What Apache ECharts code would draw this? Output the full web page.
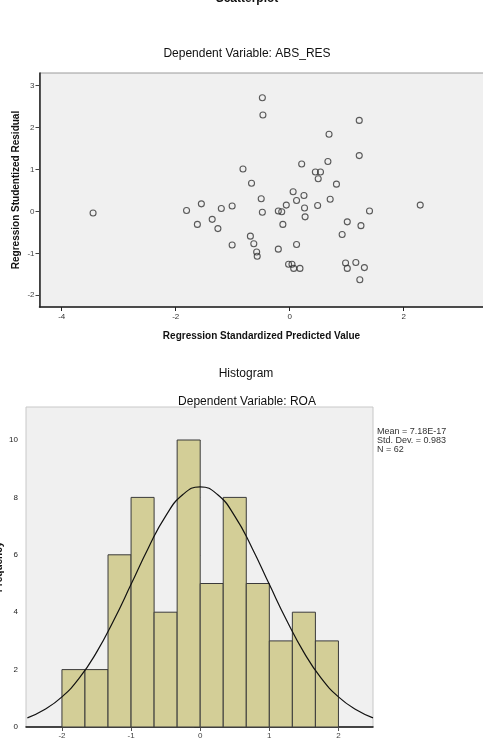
<!DOCTYPE html>
<html>
<head>
<meta charset="utf-8">
<script src="https://cdn.jsdelivr.net/npm/echarts@6/dist/echarts.min.js"></script>
<style>
  html, body { margin: 0; padding: 0; background: #fff; }
  #chart { width: 483px; height: 748px; }
</style>
</head>
<body>
<div id="chart"></div>
<script>
// scatterplot: standardized predicted value vs studentized residual
var predX = [-3.45, -1.81, -1.55, -1.62, -1.36, -1.26, -1.20, -1.01, -1.01, -0.82,
  -0.67, -0.69, -0.48, -0.47, -0.50, -0.48, -0.63, -0.58, -0.57, -0.20,
  -0.14, -0.06, -0.12, -0.20, 0.06, 0.12, 0.25, 0.26, 0.27, 0.12,
  0.49, 0.21, 0.45, 0.54, 0.50, 0.67, 0.69, 0.82, 0.71, 1.22,
  1.22, 1.40, 1.01, 1.25, 0.92, -0.02, 0.04, 0.07, 0.18, 0.98,
  1.01, 1.16, 1.31, 1.23, 2.29];
var residY = [-0.04, 0.02, 0.18, -0.31, -0.19, -0.41, 0.07, 0.13, -0.80, 1.01,
  0.67, -0.59, 2.71, 2.30, 0.30, -0.02, -0.77, -0.97, -1.07, 0.01,
  -0.01, 0.15, -0.31, -0.90, 0.47, 0.26, 0.38, 0.08, -0.13, -0.79,
  0.14, 1.13, 0.94, 0.94, 0.78, 1.19, 1.84, 0.65, 0.29, 2.17,
  1.33, 0.01, -0.25, -0.34, -0.55, -1.26, -1.26, -1.36, -1.36, -1.23,
  -1.36, -1.22, -1.34, -1.63, 0.15];
var scatterXTicks = [-4, -2, 0, 2];
var scatterYTicks = [-2, -1, 0, 1, 2, 3];

// histogram of ROA residuals
var binEdges = [-2, -1.6667, -1.3333, -1, -0.6667, -0.3333, 0, 0.3333, 0.6667, 1, 1.3333, 1.6667, 2];
var binCounts = [2, 2, 6, 8, 4, 10, 5, 8, 5, 3, 4, 3];
var histXTicks = [-2, -1, 0, 1, 2];
var histYTicks = [0, 2, 4, 6, 8, 10];
// normal curve
var curveX = [-2.5, -2.25, -2, -1.75, -1.5, -1.25, -1, -0.75, -0.5, -0.25, 0,
  0.25, 0.5, 0.75, 1, 1.25, 1.5, 1.75, 2, 2.25, 2.5];
var curveY = [0.32, 0.61, 1.05, 1.7, 2.6, 3.72, 4.97, 6.24, 7.35, 8.1, 8.37,
  8.1, 7.35, 6.24, 4.97, 3.72, 2.6, 1.7, 1.05, 0.61, 0.32];
var statsLines = ["Mean = 7.18E-17", "Std. Dev. = 0.983", "N = 62"];

var font = "Liberation Sans, Arial, sans-serif";

var scatterData = [];
for (var i = 0; i < predX.length; i++) {
  scatterData.push([predX[i], residY[i]]);
}
var histData = [];
for (var j = 0; j < binCounts.length; j++) {
  histData.push([binEdges[j], binEdges[j + 1], binCounts[j]]);
}
var curveData = [];
for (var k = 0; k < curveX.length; k++) {
  curveData.push([curveX[k], curveY[k]]);
}

var chart = echarts.init(document.getElementById("chart"));
chart.setOption({
  animation: false,
  backgroundColor: "#fff",
  textStyle: { fontFamily: font },
  title: [
    { text: "Scatterplot", left: 242, top: -12, textAlign: "center",
      textStyle: { fontSize: 12, fontWeight: "bold", color: "#111", fontFamily: font } },
    { text: "Dependent Variable: ABS_RES", left: 242, top: 43, textAlign: "center",
      textStyle: { fontSize: 12, fontWeight: "normal", color: "#111", fontFamily: font } },
    { text: "Histogram", left: 241, top: 363, textAlign: "center",
      textStyle: { fontSize: 12, fontWeight: "normal", color: "#111", fontFamily: font } },
    { text: "Dependent Variable: ROA", left: 242, top: 391, textAlign: "center",
      textStyle: { fontSize: 12, fontWeight: "normal", color: "#111", fontFamily: font } }
  ],
  graphic: [
    { type: "text", left: 377, top: 427,
      style: { text: statsLines.join("\n"), font: "9px " + font, fill: "#333", lineHeight: 8.8 } }
  ],
  grid: [
    { left: 39.5, top: 73, width: 444, height: 234, show: true, outerBoundsMode: "none",
      backgroundColor: "#f0f0f0", borderColor: "#9a9a9a", borderWidth: 1 },
    { left: 26, top: 407, width: 347, height: 320, show: true, outerBoundsMode: "none",
      backgroundColor: "#f0f0f0", borderColor: "#c8c8c8", borderWidth: 1 }
  ],
  xAxis: [
    {
      gridIndex: 0, type: "value", min: -4.39, max: 3.4,
      name: "Regression Standardized Predicted Value",
      nameLocation: "middle", nameGap: 24, nameMoveOverlap: false,
      nameTextStyle: { fontSize: 10, fontWeight: "bold", color: "#111" },
      axisLine: { show: true, onZero: false, lineStyle: { color: "#222", width: 1.5 } },
      axisTick: { show: true, length: 4, customValues: scatterXTicks, lineStyle: { color: "#222" } },
      axisLabel: { customValues: scatterXTicks, fontSize: 8, color: "#333", margin: 6 },
      splitLine: { show: false }
    },
    {
      gridIndex: 1, type: "value", min: -2.52, max: 2.5,
      axisLine: { show: true, onZero: false, lineStyle: { color: "#111", width: 1.5 } },
      axisTick: { show: true, length: 4, customValues: histXTicks, lineStyle: { color: "#555" } },
      axisLabel: { customValues: histXTicks, fontSize: 8, color: "#444", margin: 5 },
      splitLine: { show: false }
    }
  ],
  yAxis: [
    {
      gridIndex: 0, type: "value", min: -2.28, max: 3.3,
      name: "Regression Studentized Residual",
      nameLocation: "middle", nameGap: 18, nameRotate: 90, nameMoveOverlap: false,
      nameTextStyle: { fontSize: 10, fontWeight: "bold", color: "#111" },
      axisLine: { show: true, onZero: false, lineStyle: { color: "#222", width: 1.5 } },
      axisTick: { show: true, length: 4, customValues: scatterYTicks, lineStyle: { color: "#444" } },
      axisLabel: { customValues: scatterYTicks, fontSize: 8, color: "#444", margin: 5 },
      splitLine: { show: false }
    },
    {
      gridIndex: 1, type: "value", min: 0, max: 11.15,
      name: "Frequency",
      nameLocation: "middle", nameGap: 22, nameRotate: 90, nameMoveOverlap: false,
      nameTextStyle: { fontSize: 10, fontWeight: "bold", color: "#111" },
      axisLine: { show: false },
      axisTick: { show: true, length: 6, customValues: histYTicks, lineStyle: { color: "#333" } },
      axisLabel: { customValues: histYTicks, fontSize: 8, color: "#222", margin: 8 },
      splitLine: { show: false }
    }
  ],
  series: [
    {
      type: "scatter", xAxisIndex: 0, yAxisIndex: 0,
      data: scatterData,
      symbol: "circle", symbolSize: 6,
      itemStyle: { color: "rgba(0,0,0,0)", borderColor: "#333", borderWidth: 1.1 }
    },
    {
      type: "custom", xAxisIndex: 1, yAxisIndex: 1,
      data: histData,
      encode: { x: [0, 1], y: 2 },
      renderItem: function (params, api) {
        var p0 = api.coord([api.value(0), 0]);
        var p1 = api.coord([api.value(1), api.value(2)]);
        return {
          type: "rect",
          shape: { x: p0[0], y: p1[1], width: p1[0] - p0[0], height: p0[1] - p1[1] },
          style: { fill: "#d3ce97", stroke: "#3a3a3a", lineWidth: 1 }
        };
      }
    },
    {
      type: "line", xAxisIndex: 1, yAxisIndex: 1,
      data: curveData, smooth: true, showSymbol: false,
      lineStyle: { color: "#111", width: 1.2 }
    }
  ]
});
</script>
</body>
</html>
